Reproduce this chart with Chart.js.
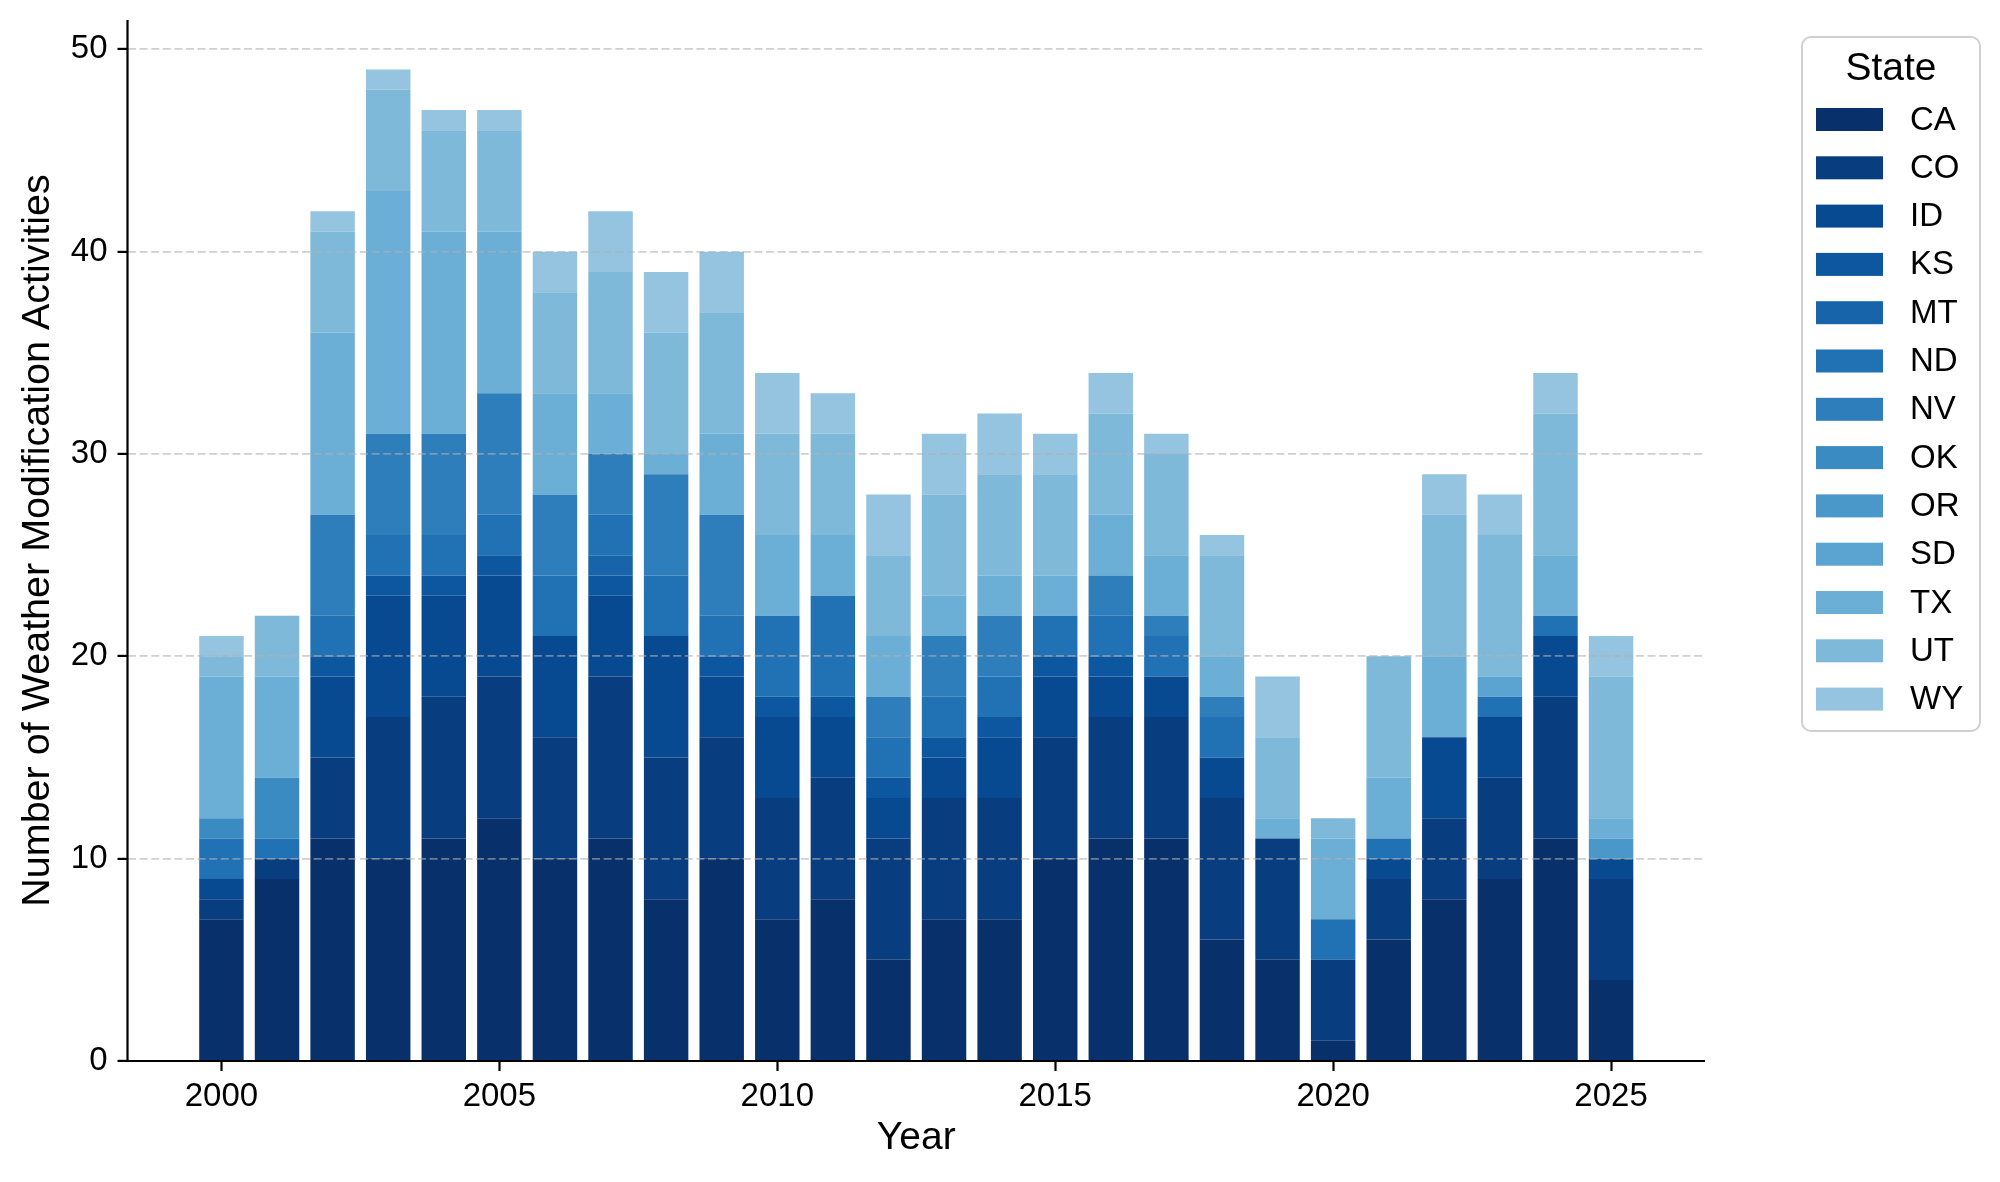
<!DOCTYPE html>
<html>
<head>
<meta charset="utf-8">
<script src="https://cdn.jsdelivr.net/npm/chart.js@4.4.0/dist/chart.umd.min.js"></script>
<style>
html,body{margin:0;padding:0;background:#fff;}
#wrap{width:2000px;height:1182px;position:relative;}
canvas{display:block;}
</style>
</head>
<body>
<div id="wrap"><canvas id="c" width="2000" height="1182" style="width:2000px;height:1182px"></canvas></div>
<script>
// ---------- data ----------
const years = [2000,2001,2002,2003,2004,2005,2006,2007,2008,2009,2010,2011,2012,2013,2014,2015,2016,2017,2018,2019,2020,2021,2022,2023,2024,2025];
const states = ['CA','CO','ID','KS','MT','ND','NV','OK','OR','SD','TX','UT','WY'];
const CA = [7,9,11,10,11,12,10,11,8,10,7,8,5,7,7,10,11,11,6,5,1,6,8,9,11,4];
const CO = [1,1,4,7,7,7,6,8,7,6,6,6,6,6,6,6,6,6,7,6,4,3,4,5,7,5];
const ID = [1,0,4,6,5,5,5,4,6,3,4,3,2,2,3,3,2,2,2,0,0,1,4,3,3,1];
const KS = [0,0,1,1,1,1,0,1,0,1,1,1,1,1,1,1,1,0,0,0,0,0,0,0,0,0];
const MT = [0,0,0,0,0,0,0,1,0,0,0,0,0,0,0,0,0,0,0,0,0,0,0,0,0,0];
const ND = [2,1,2,2,2,2,3,2,3,2,4,5,2,2,2,2,2,2,2,0,2,1,0,1,1,0];
const NV = [0,0,5,5,5,6,4,3,5,5,0,0,2,3,3,0,2,1,1,0,0,0,0,0,0,0];
const OK = [1,3,0,0,0,0,0,0,0,0,0,0,0,0,0,0,0,0,0,0,0,0,0,0,0,0];
const OR = [0,0,0,0,0,0,0,0,0,0,0,0,0,0,0,0,0,0,0,0,0,0,0,0,0,1];
const SD = [0,0,0,0,0,0,0,0,0,0,0,0,0,0,0,0,0,0,0,0,0,0,0,1,0,0];
const TX = [7,5,9,12,10,8,5,3,1,4,4,3,3,2,2,2,3,3,2,1,4,3,4,0,3,1];
const UT = [1,3,5,5,5,5,5,6,6,6,5,5,4,5,5,5,5,5,5,4,1,6,7,7,7,7];
const WY = [1,0,1,1,1,1,2,3,3,3,3,2,3,3,3,2,2,1,1,3,0,0,2,2,2,2];
const seriesValues = [CA,CO,ID,KS,MT,ND,NV,OK,OR,SD,TX,UT,WY];
const xTickValues = [2000,2005,2010,2015,2020,2025];
const yTickValues = [0,10,20,30,40,50];

// ---------- style ----------
const FONT = '"Liberation Sans", Arial, Helvetica, sans-serif';
const palette = ['#08306b','#083d7f','#084a92','#0d57a1','#1764ab','#2171b5','#2e7ebc','#3b8bc3','#4a98c9','#5ba3d0','#6baed6','#7fb9da','#94c4df'];
const GRID = 'rgba(176,176,176,0.6)';

const datasets = states.map((s, i) => ({
  label: s,
  data: years.map((yr, j) => ({x: yr, y: seriesValues[i][j]})),
  backgroundColor: palette[i],
  borderWidth: 0,
  categoryPercentage: 1.0,
  barPercentage: 0.8
}));

const spines = {
  id: 'spines',
  afterDraw(chart, args, o) {
    const ctx = chart.ctx, a = chart.chartArea;
    ctx.save();
    ctx.strokeStyle = o.color;
    ctx.lineWidth = o.width;
    ctx.beginPath();
    ctx.moveTo(a.left, a.top);
    ctx.lineTo(a.left, a.bottom);
    ctx.lineTo(a.right, a.bottom);
    ctx.stroke();
    ctx.restore();
  }
};

const stateLegend = {
  id: 'stateLegend',
  afterDraw(chart, args, o) {
    const ctx = chart.ctx;
    ctx.save();
    ctx.beginPath();
    ctx.roundRect(o.x, o.y, o.w, o.h, o.r);
    ctx.fillStyle = 'rgba(255,255,255,0.85)';
    ctx.fill();
    ctx.lineWidth = o.borderWidth;
    ctx.strokeStyle = o.borderColor;
    ctx.stroke();
    ctx.fillStyle = '#000';
    ctx.textBaseline = 'middle';
    ctx.textAlign = 'center';
    ctx.font = o.titleSize + 'px ' + FONT;
    ctx.fillText(o.title, o.x + o.w / 2, o.titleY);
    ctx.textAlign = 'left';
    ctx.font = o.labelSize + 'px ' + FONT;
    chart.data.datasets.forEach((ds, i) => {
      const cy = o.firstRowY + i * o.rowGap;
      ctx.fillStyle = ds.backgroundColor;
      ctx.fillRect(o.swatchX, cy - o.swatchH / 2, o.swatchW, o.swatchH);
      ctx.fillStyle = '#000';
      ctx.fillText(ds.label, o.textX, cy + 1);
    });
    ctx.restore();
  }
};

new Chart(document.getElementById('c'), {
  type: 'bar',
  data: { datasets },
  plugins: [spines, stateLegend],
  options: {
    responsive: false,
    devicePixelRatio: 1,
    animation: false,
    layout: { padding: { left: 0, top: 20, right: 295, bottom: 0 } },
    plugins: {
      legend: { display: false },
      tooltip: { enabled: false },
      spines: { color: '#000', width: 2.2 },
      stateLegend: {
        x: 1802, y: 37, w: 178, h: 694, r: 9,
        borderWidth: 2, borderColor: '#d0d0d0',
        title: 'State', titleSize: 39, titleY: 69.5,
        labelSize: 33, firstRowY: 119.5, rowGap: 48.3,
        swatchX: 1816, swatchW: 67, swatchH: 23, textX: 1910
      }
    },
    scales: {
      x: {
        type: 'linear',
        stacked: true,
        offset: false,
        min: 1998.31,
        max: 2026.69,
        afterFit: s => { s.height = 121; s.paddingLeft = 0; s.paddingRight = 0; },
        afterBuildTicks: s => { s.ticks = xTickValues.map(v => ({ value: v })); },
        ticks: {
          callback: v => String(v),
          color: '#000',
          font: { family: FONT, size: 33 },
          padding: 6,
          maxRotation: 0,
          autoSkip: false
        },
        grid: {
          offset: false,
          drawOnChartArea: false,
          drawTicks: true,
          tickLength: 10,
          tickWidth: 2.2,
          tickColor: '#000',
          color: '#000'
        },
        border: { display: false },
        title: {
          display: true,
          text: 'Year',
          color: '#000',
          font: { family: FONT, size: 39 },
          padding: { top: 0, bottom: 20 }
        }
      },
      y: {
        stacked: true,
        min: 0,
        max: 51.45,
        afterFit: s => { s.width = 127.5; s.paddingTop = 0; s.paddingBottom = 0; },
        afterBuildTicks: s => { s.ticks = yTickValues.map(v => ({ value: v })); },
        ticks: {
          color: '#000',
          font: { family: FONT, size: 33 },
          padding: 10
        },
        grid: {
          z: 1,
          color: c => (c.tick && c.tick.value === 0) ? 'rgba(0,0,0,0)' : GRID,
          lineWidth: 1.8,
          tickLength: 10,
          tickWidth: 2.2,
          tickColor: '#000',
          tickBorderDash: []
        },
        border: { display: false, dash: [8, 3.6] },
        title: {
          display: true,
          text: 'Number of Weather Modification Activities',
          color: '#000',
          font: { family: FONT, size: 39.5 },
          padding: { top: 14, bottom: 0 }
        }
      }
    }
  }
});
</script>
</body>
</html>
